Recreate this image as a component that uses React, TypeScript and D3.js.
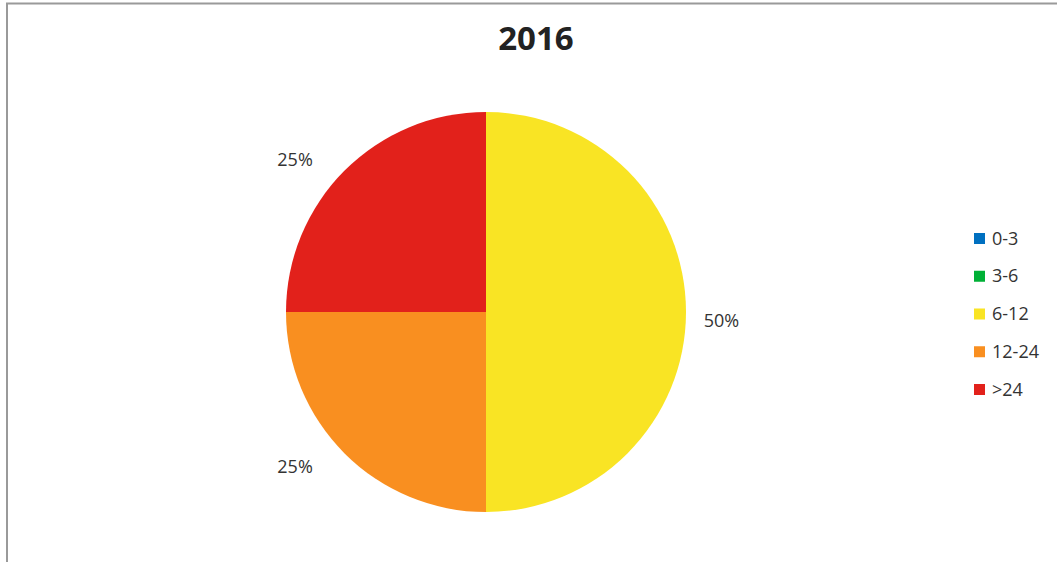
import React from "react";
import * as d3 from "d3";

const categories = ["0-3", "3-6", "6-12", "12-24", ">24"];
const values = [0, 0, 50, 25, 25];
const colors = ["#0070C0", "#00B036", "#F9E424", "#F98F20", "#E2211B"];
const title = "2016";

export default function App() {
  const W = 1057, H = 562;
  const cx = 486, cy = 312, r = 200;
  const total = d3.sum(values);
  const pie = d3.pie<number>().sort(null).value((d) => d)(values);
  const arc = d3.arc<d3.PieArcDatum<number>>().innerRadius(0).outerRadius(r);
  const font = "'Open Sans', 'DejaVu Sans', sans-serif";
  const legendY = d3.scalePoint<string>().domain(categories).range([238, 389]);

  return (
    <svg width={W} height={H} style={{ position: "absolute", left: 0, top: 0, background: "#fff" }}>
      <rect x={7} y={3.5} width={W + 10} height={H + 10} fill="#fff" stroke="#9a9a9a" strokeWidth={2} />
      <text x={536} y={50} textAnchor="middle" fontFamily={font} fontWeight="bold" fontSize={33} fill="#222">{title}</text>
      <g transform={`translate(${cx},${cy})`}>
        {pie.map((p, i) => (p.value > 0 ? <path key={i} d={arc(p) || ""} fill={colors[i]} /> : null))}
        {pie.map((p, i) => {
          if (p.value <= 0) return null;
          const a = (p.startAngle + p.endAngle) / 2;
          const s = Math.sin(a), c = Math.cos(a);
          const x = s * 152 + Math.sign(s) * 83.5;
          const y = -c * 217 + 7.5 + 7.5 * (s * s - c * c);
          return (
            <text key={"l" + i} x={x} y={y} textAnchor="middle" fontFamily={font} fontSize={18} fill="#333">
              {d3.format(".0%")(p.value / total)}
            </text>
          );
        })}
      </g>
      {categories.map((c, i) => (
        <g key={c} transform={`translate(974,${legendY(c)})`}>
          <rect x={0} y={-5} width={11} height={11} fill={colors[i]} />
          <text x={18} y={6.5} fontFamily={font} fontSize={18} fill="#333">{c}</text>
        </g>
      ))}
    </svg>
  );
}
